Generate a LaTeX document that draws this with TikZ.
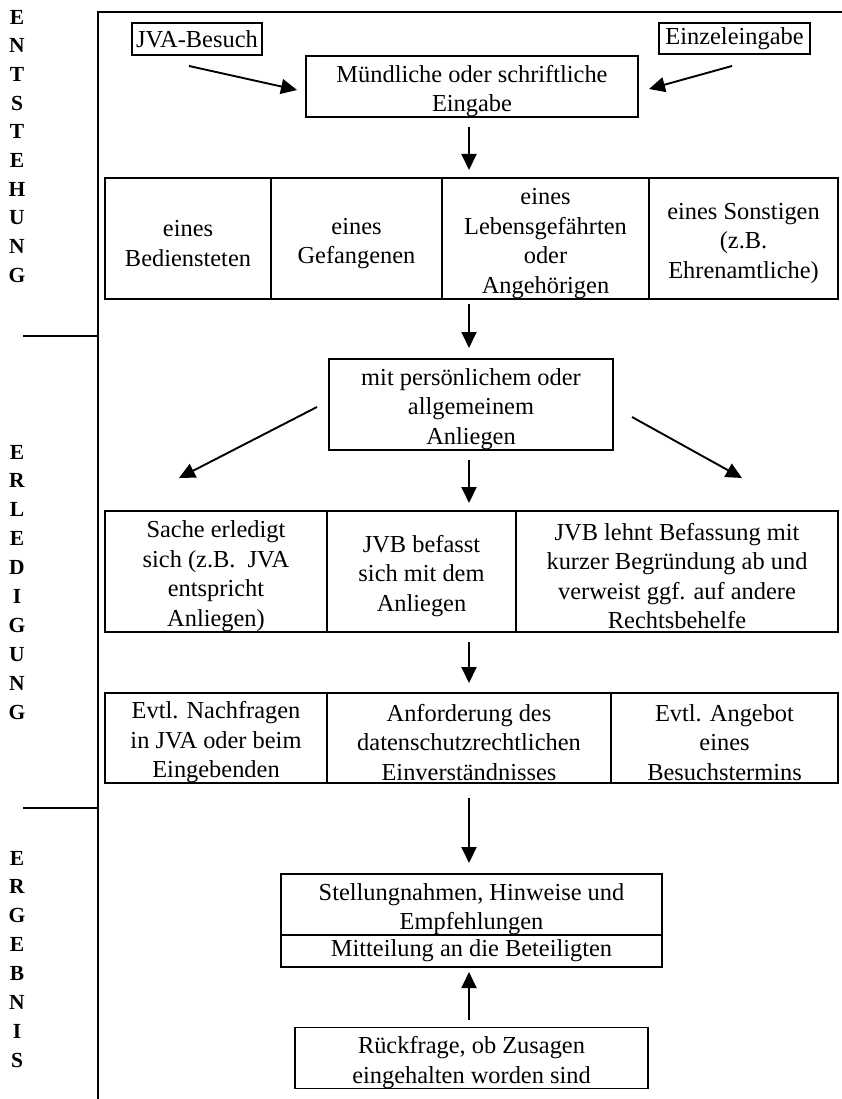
\documentclass[tikz,border=0pt]{standalone}
\usepackage{fontspec}
\setmainfont{Liberation Serif}
\usetikzlibrary{arrows.meta}
\newcommand\myup{\rule{0pt}{26pt}}
\tikzset{
  box/.style={draw, line width=1.5pt, align=center, inner sep=0pt, font=\fontsize{24.4}{29.5}\selectfont},
  arr/.style={line width=1.9pt, -{Triangle[length=16pt,width=15pt]}},
  frame/.style={line width=1.2pt},
  side/.style={font=\fontsize{21.5}{24}\selectfont\bfseries, inner sep=0pt}
}
\begin{document}
\begin{tikzpicture}[x=1pt,y=-1pt]
\useasboundingbox (0,0) rectangle (842,1099);
% frame
\draw[frame] (842,12) -- (98,12) -- (98,1099);
\draw[frame] (23,336) -- (98,336);
\draw[frame] (23,808) -- (98,808);
% side labels
\foreach \l [count=\i from 0] in {E,N,T,S,T,E,H,U,N,G}
  \node[side] (sa\i) at (17,{17+28.7*\i}) {\l};
\foreach \l [count=\i from 0] in {E,R,L,E,D,I,G,U,N,G}
  \node[side] (sb\i) at (17,{452+28.9*\i}) {\l};
\foreach \l [count=\i from 0] in {E,R,G,E,B,N,I,S}
  \node[side] (sc\i) at (17,{858+28.9*\i}) {\l};
% top
\node[box, minimum width=130pt, minimum height=32pt] (jva) at (197,39) {JVA-Besuch};
\node[box, minimum width=151pt, minimum height=31pt] (einz) at (734.5,38.5) {Einzeleingabe};
\node[box, minimum width=332pt, minimum height=61pt] (eing) at (472,86.5) {\myup Mündliche oder schriftliche\\Eingabe};
% row 1
\node[box, minimum width=166pt, minimum height=121pt] (r1a) at (188,238.5) {\myup eines\\Bediensteten};
\node[box, minimum width=171pt, minimum height=121pt] (r1b) at (356.5,238.5) {\myup eines\\Gefangenen};
\node[box, minimum width=207pt, minimum height=121pt] (r1c) at (545.5,238.5) {\myup eines\\Lebensgefährten\\oder\\Angehörigen};
\node[box, minimum width=189pt, minimum height=121pt] (r1d) at (743.5,238.5) {\myup eines Sonstigen\\(z.B.\\Ehrenamtliche)};
% anliegen
\node[box, minimum width=284pt, minimum height=91pt] (anl) at (471,404.5) {\myup mit persönlichem oder\\allgemeinem\\Anliegen};
% row 2
\node[box, minimum width=222pt, minimum height=121pt] (r2a) at (216,571.5) {\myup Sache erledigt\\sich (z.B.\ \ JVA\\entspricht\\Anliegen)};
\node[box, minimum width=189pt, minimum height=121pt] (r2b) at (421.5,571.5) {\myup JVB befasst\\sich mit dem\\Anliegen};
\node[box, minimum width=322pt, minimum height=121pt] (r2c) at (677,571.5) {\myup JVB lehnt Befassung mit\\kurzer Begründung ab und\\verweist ggf. auf andere\\Rechtsbehelfe};
% row 3
\node[box, minimum width=222pt, minimum height=90pt] (r3a) at (216,738) {\myup Evtl. Nachfragen\\in JVA oder beim\\Eingebenden};
\node[box, minimum width=284pt, minimum height=90pt] (r3b) at (469,738) {\myup Anforderung des\\datenschutzrechtlichen\\Einverständnisses};
\node[box, minimum width=227pt, minimum height=90pt] (r3c) at (724.5,738) {\myup Evtl. Angebot\\eines\\Besuchstermins};
% result
\node[box, minimum width=381pt, minimum height=61pt] (stell) at (471.5,904.5) {\myup Stellungnahmen, Hinweise und\\Empfehlungen};
\node[box, minimum width=381pt, minimum height=32pt] (mitt) at (471.5,951) {Mitteilung an die Beteiligten};
\node[box, minimum width=353pt, minimum height=60pt] (rueck) at (471.5,1058) {\myup Rückfrage, ob Zusagen\\eingehalten worden sind};
% arrow coordinates
\coordinate (a1s) at (189,66);  \coordinate (a1e) at (297,90);
\coordinate (a2s) at (732,66);  \coordinate (a2e) at (649,89);
\coordinate (a3s) at (469,127); \coordinate (a3e) at (469,170);
\coordinate (a4s) at (469,304); \coordinate (a4e) at (469,348);
\coordinate (a5s) at (317,407); \coordinate (a5e) at (179,478);
\coordinate (a6s) at (632,417); \coordinate (a6e) at (742,478);
\coordinate (a7s) at (469,460); \coordinate (a7e) at (469,503);
\coordinate (a8s) at (469,642); \coordinate (a8e) at (469,683);
\coordinate (a9s) at (469,798); \coordinate (a9e) at (469,863);
\coordinate (a10s) at (469,1020); \coordinate (a10e) at (469,972);
\draw[arr] (a1s) -- (a1e);
\draw[arr] (a2s) -- (a2e);
\draw[arr] (a3s) -- (a3e);
\draw[arr] (a4s) -- (a4e);
\draw[arr] (a5s) -- (a5e);
\draw[arr] (a6s) -- (a6e);
\draw[arr] (a7s) -- (a7e);
\draw[arr] (a8s) -- (a8e);
\draw[arr] (a9s) -- (a9e);
\draw[arr] (a10s) -- (a10e);
\end{tikzpicture}
\end{document}
